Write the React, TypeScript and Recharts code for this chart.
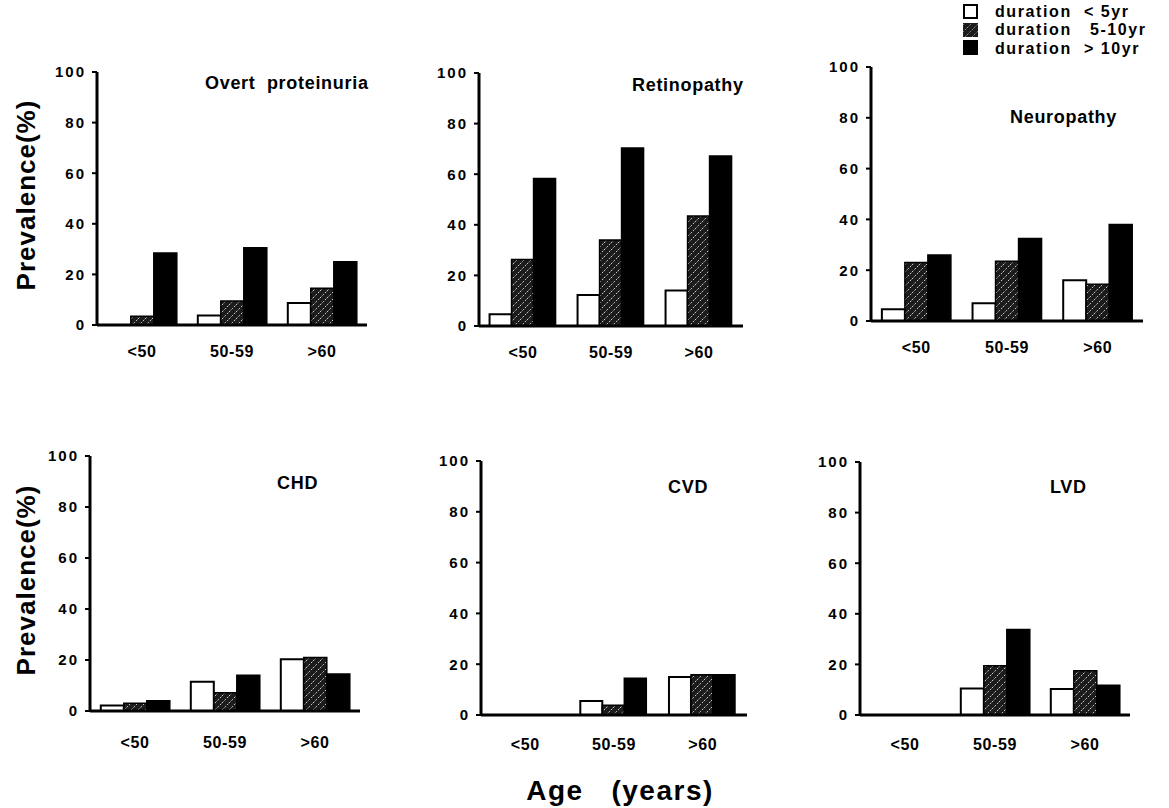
import React from 'react';
import { BarChart, Bar, XAxis, YAxis } from 'recharts';

const ageGroups = ['<50', '50-59', '>60'];
const yTicks = [0, 20, 40, 60, 80, 100];
const durationNames = ['duration  < 5yr', 'duration   5-10yr', 'duration  > 10yr'];

// prevalence (%) per age group, for each duration band
const proteinuriaShort = [0, 3.8, 8.7];
const proteinuriaMid = [3.5, 9.5, 14.5];
const proteinuriaLong = [28.5, 30.5, 25];

const retinopathyShort = [4.6, 12.3, 14];
const retinopathyMid = [26.3, 34, 43.5];
const retinopathyLong = [58.3, 70.4, 67.2];

const neuropathyShort = [4.6, 7, 16];
const neuropathyMid = [23, 23.5, 14.5];
const neuropathyLong = [26, 32.5, 38];

const chdShort = [2.2, 11.5, 20.3];
const chdMid = [3, 7.2, 21];
const chdLong = [4, 14, 14.5];

const cvdShort = [0, 5.5, 15];
const cvdMid = [0, 3.8, 15.8];
const cvdLong = [0, 14.5, 15.8];

const lvdShort = [0, 10.5, 10.3];
const lvdMid = [0, 19.5, 17.5];
const lvdLong = [0, 33.8, 11.8];

const FONT = '"Liberation Sans", Arial, Helvetica, sans-serif';

const toRows = (s: number[], m: number[], l: number[]) =>
  ageGroups.map((age, i) => ({ age, short: s[i], mid: m[i], long: l[i] }));

interface PanelProps {
  id: string;
  title: string;
  rows: { age: string; short: number; mid: number; long: number }[];
  x0: number;
  x1: number;
  yTop: number;
  yBot: number;
  titleX: number;
  titleY: number;
  labelGap: number;
}

const YW = 50;
const MT = 12;
const MR = 6;
const XH = 45;

function Panel({ id, title, rows, x0, x1, yTop, yBot, titleX, titleY, labelGap }: PanelProps) {
  const width = x1 - x0 + YW + MR;
  const height = yBot - yTop + MT + XH;
  return (
    <>
      <div style={{ position: 'absolute', left: x0 - YW, top: yTop - MT }}>
        <BarChart
          width={width}
          height={height}
          data={rows}
          margin={{ top: MT, right: MR, left: 0, bottom: 0 }}
          barCategoryGap="12%"
          barGap={0}
        >
          <defs>
            <pattern id={`hatch-${id}`} patternUnits="userSpaceOnUse" width="7" height="7">
              <rect width="7" height="7" fill="#1c1c1c" />
              <path d="M-1,1 l2,-2 M0,7 l7,-7 M6,8 l2,-2" stroke="#c8c8c8" strokeWidth="1" strokeDasharray="2 1.5" />
            </pattern>
          </defs>
          <XAxis
            dataKey="age"
            height={XH}
            tickLine={false}
            tickSize={0}
            tickMargin={labelGap}
            axisLine={{ stroke: '#000', strokeWidth: 3 }}
            tick={{ fill: '#000', fontSize: 16, fontWeight: 700, fontFamily: FONT, letterSpacing: 0.6 }}
          />
          <YAxis
            width={YW}
            domain={[0, 100]}
            ticks={yTicks}
            interval={0}
            tickSize={5}
            tickMargin={6}
            axisLine={{ stroke: '#000', strokeWidth: 3 }}
            tickLine={{ stroke: '#000', strokeWidth: 2 }}
            tick={{ fill: '#000', fontSize: 15, fontWeight: 700, fontFamily: FONT, letterSpacing: 2 }}
          />
          <Bar dataKey="short" fill="#fff" stroke="#000" strokeWidth={2} isAnimationActive={false} />
          <Bar dataKey="mid" fill={`url(#hatch-${id})`} stroke="#000" strokeWidth={1.5} isAnimationActive={false} />
          <Bar dataKey="long" fill="#000" stroke="#000" strokeWidth={1.5} isAnimationActive={false} />
        </BarChart>
      </div>
      <div
        style={{
          position: 'absolute',
          left: titleX,
          top: titleY - 11,
          fontFamily: FONT,
          fontWeight: 700,
          fontSize: 18,
          letterSpacing: 0.7,
          whiteSpace: 'pre',
          lineHeight: '22px',
        }}
      >
        {title}
      </div>
    </>
  );
}

function YLabel({ cx, cy }: { cx: number; cy: number }) {
  return (
    <div
      style={{
        position: 'absolute',
        left: cx - 150,
        top: cy - 16,
        width: 300,
        height: 32,
        lineHeight: '32px',
        textAlign: 'center',
        transform: 'rotate(-90deg)',
        fontFamily: FONT,
        fontWeight: 700,
        fontSize: 26,
        letterSpacing: 1,
      }}
    >
      Prevalence(%)
    </div>
  );
}

function DurationLegend() {
  const rowsY = [11, 29.5, 48];
  return (
    <div style={{ position: 'absolute', left: 960, top: 0, width: 209, height: 62 }}>
      <svg width={209} height={62} style={{ position: 'absolute', left: 0, top: 0 }}>
        <defs>
          <pattern id="hatch-legend" patternUnits="userSpaceOnUse" width="7" height="7">
            <rect width="7" height="7" fill="#1c1c1c" />
            <path d="M-1,1 l2,-2 M0,7 l7,-7 M6,8 l2,-2" stroke="#888" strokeWidth="1" strokeDasharray="2 1.5" />
          </pattern>
        </defs>
        <rect x={4} y={5} width={13} height={13} fill="#fff" stroke="#000" strokeWidth={2} />
        <rect x={3} y={23} width={15} height={14} fill="url(#hatch-legend)" />
        <rect x={3} y={40} width={15} height={15} fill="#000" />
        {durationNames.map((name, i) => (
          <text
            key={name}
            x={35}
            y={rowsY[i] + 5.5}
            fontFamily={FONT}
            fontWeight={700}
            fontSize={16}
            letterSpacing={1.6}
            style={{ whiteSpace: 'pre' }}
          >
            {name}
          </text>
        ))}
      </svg>
    </div>
  );
}

export default function App() {
  return (
    <div style={{ position: 'absolute', left: 0, top: 0, width: 1169, height: 808, background: '#fff', overflow: 'hidden' }}>
      <Panel id="p1" title="Overt  proteinuria" rows={toRows(proteinuriaShort, proteinuriaMid, proteinuriaLong)}
        x0={97} x1={367} yTop={72} yBot={325} titleX={205} titleY={83} labelGap={21} />
      <Panel id="p2" title="Retinopathy" rows={toRows(retinopathyShort, retinopathyMid, retinopathyLong)}
        x0={479} x1={743} yTop={73} yBot={326} titleX={632} titleY={85} labelGap={21} />
      <Panel id="p3" title="Neuropathy" rows={toRows(neuropathyShort, neuropathyMid, neuropathyLong)}
        x0={871} x1={1143} yTop={67} yBot={321} titleX={1010} titleY={117} labelGap={21} />
      <Panel id="p4" title="CHD" rows={toRows(chdShort, chdMid, chdLong)}
        x0={90} x1={360} yTop={456} yBot={711} titleX={277} titleY={483} labelGap={26} />
      <Panel id="p5" title="CVD" rows={toRows(cvdShort, cvdMid, cvdLong)}
        x0={481} x1={747} yTop={461} yBot={715} titleX={668} titleY={487} labelGap={24} />
      <Panel id="p6" title="LVD" rows={toRows(lvdShort, lvdMid, lvdLong)}
        x0={860} x1={1130} yTop={462} yBot={715} titleX={1050} titleY={487} labelGap={24} />
      <YLabel cx={26} cy={195} />
      <YLabel cx={26} cy={580} />
      <DurationLegend />
      <div
        style={{
          position: 'absolute',
          left: 420,
          top: 775,
          width: 400,
          textAlign: 'center',
          fontFamily: FONT,
          fontWeight: 700,
          fontSize: 28,
          letterSpacing: 1.5,
          whiteSpace: 'pre',
          lineHeight: '32px',
        }}
      >
        Age   (years)
      </div>
    </div>
  );
}
